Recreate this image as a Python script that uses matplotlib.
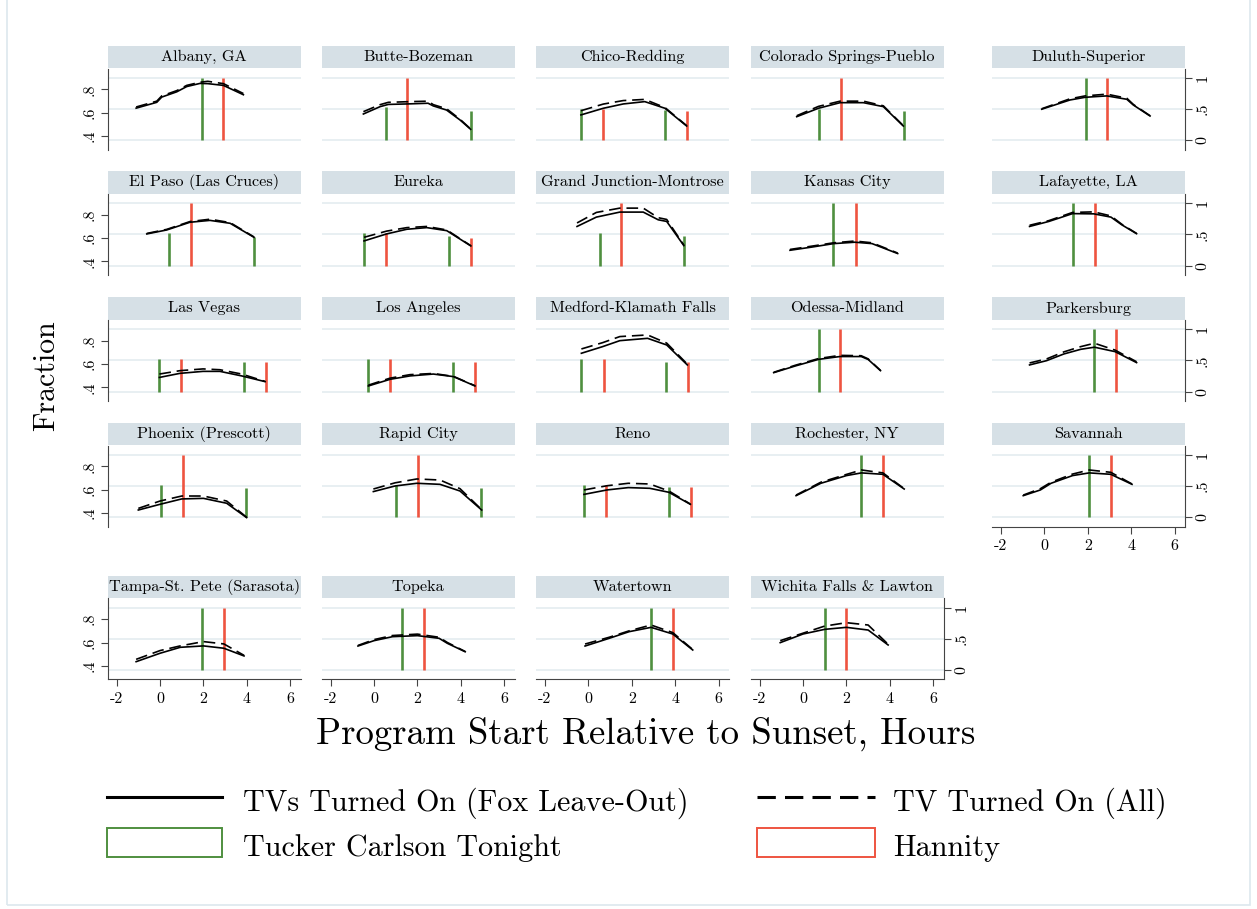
import matplotlib
matplotlib.use("Agg")
import matplotlib.pyplot as plt
from matplotlib.patches import Rectangle
from matplotlib.lines import Line2D

plt.rcParams['font.family'] = ['cmr10', 'DejaVu Serif']
plt.rcParams['axes.unicode_minus'] = False

markets = ["Albany, GA", "Butte-Bozeman", "Chico-Redding", "Colorado Springs-Pueblo", "Duluth-Superior",
           "El Paso (Las Cruces)", "Eureka", "Grand Junction-Montrose", "Kansas City", "Lafayette, LA",
           "Las Vegas", "Los Angeles", "Medford-Klamath Falls", "Odessa-Midland", "Parkersburg",
           "Phoenix (Prescott)", "Rapid City", "Reno", "Rochester, NY", "Savannah",
           "Tampa-St. Pete (Sarasota)", "Topeka", "Watertown", "Wichita Falls & Lawton"]

# program start, hours relative to sunset
hours = [
    [-1.1, -0.15, 0.08, 0.77, 1.23, 1.84, 2.2, 2.92, 3.84],
    [-0.49, 0.28, 0.66, 1.5, 2.49, 2.73, 3.34, 3.96, 4.45],
    [-0.34, 0.69, 1.61, 2.6, 3.53, 4.53],
    [-0.29, 0.71, 1.71, 2.78, 3.7, 4.62],
    [-0.12, 1.18, 1.88, 2.88, 3.8, 4.1, 4.87],
    [-0.61, 0.31, 1.38, 2.3, 3.23, 4.33],
    [-0.46, 0.58, 1.51, 2.43, 3.35, 4.46],
    [-0.52, 0.37, 1.45, 2.53, 3.22, 3.61, 4.4],
    [-0.6, 0.43, 1.41, 2.39, 3.18, 4.36],
    [-0.68, 0.21, 1.3, 2.28, 3.07, 3.56, 4.25],
    [-0.03, 0.92, 1.98, 2.76, 3.76, 4.84],
    [-0.26, 0.74, 1.66, 2.73, 3.66, 4.65],
    [-0.32, 0.66, 1.45, 2.73, 3.61, 4.56],
    [-1.35, -0.36, 0.72, 1.7, 2.68, 3.0, 3.57],
    [-0.68, 0.11, 0.9, 1.68, 2.31, 3.26, 4.25],
    [-1.0, 0.0, 1.0, 2.0, 3.07, 3.99],
    [-0.03, 0.97, 1.97, 3.04, 3.96, 4.96],
    [-0.2, 0.86, 1.84, 2.83, 3.71, 4.7],
    [-0.32, 0.82, 2.0, 2.69, 3.68, 4.66],
    [-0.97, -0.18, 0.31, 1.3, 2.07, 3.06, 4.04],
    [-1.1, 0.0, 0.93, 2.0, 2.94, 3.87],
    [-0.74, 0.0, 0.85, 2.0, 3.0, 3.38, 4.2],
    [-0.15, 0.96, 1.88, 2.89, 3.89, 4.81],
    [-1.05, 0.0, 1.0, 2.0, 3.0, 3.92],
]

# fraction of TVs turned on, Fox viewers left out
fox_leave_out = [
    [0.64, 0.69, 0.735, 0.78, 0.825, 0.852, 0.85, 0.835, 0.755],
    [0.59, 0.653, 0.672, 0.676, 0.682, 0.659, 0.624, 0.539, 0.459],
    [0.582, 0.639, 0.676, 0.696, 0.639, 0.487],
    [0.567, 0.639, 0.687, 0.687, 0.653, 0.487],
    [0.631, 0.71, 0.733, 0.745, 0.716, 0.667, 0.573],
    [0.636, 0.67, 0.736, 0.752, 0.727, 0.607],
    [0.576, 0.636, 0.676, 0.69, 0.664, 0.533],
    [0.70, 0.78, 0.823, 0.823, 0.757, 0.743, 0.536],
    [0.496, 0.524, 0.553, 0.565, 0.553, 0.468],
    [0.70, 0.743, 0.81, 0.808, 0.78, 0.715, 0.638],
    [0.486, 0.521, 0.538, 0.538, 0.499, 0.45],
    [0.413, 0.47, 0.499, 0.515, 0.493, 0.413],
    [0.693, 0.75, 0.801, 0.821, 0.764, 0.593],
    [0.527, 0.584, 0.641, 0.665, 0.665, 0.64, 0.544],
    [0.593, 0.63, 0.687, 0.727, 0.745, 0.707, 0.613],
    [0.427, 0.476, 0.522, 0.527, 0.485, 0.362],
    [0.585, 0.633, 0.656, 0.647, 0.59, 0.427],
    [0.561, 0.599, 0.619, 0.613, 0.579, 0.476],
    [0.55, 0.656, 0.722, 0.745, 0.733, 0.607],
    [0.55, 0.599, 0.656, 0.722, 0.745, 0.733, 0.647],
    [0.436, 0.508, 0.559, 0.571, 0.551, 0.485],
    [0.57, 0.616, 0.65, 0.659, 0.636, 0.593, 0.521],
    [0.57, 0.636, 0.693, 0.73, 0.673, 0.536],
    [0.599, 0.673, 0.713, 0.73, 0.707, 0.579],
]

# fraction of TVs turned on, all households
tv_all = [
    [0.65, 0.70, 0.745, 0.79, 0.835, 0.862, 0.87, 0.85, 0.765],
    [0.61, 0.67, 0.69, 0.695, 0.70, 0.67, 0.635, 0.545, 0.462],
    [0.618, 0.675, 0.705, 0.715, 0.645, 0.49],
    [0.575, 0.655, 0.70, 0.70, 0.66, 0.49],
    [0.635, 0.72, 0.745, 0.76, 0.725, 0.672, 0.575],
    [0.64, 0.675, 0.742, 0.762, 0.733, 0.61],
    [0.607, 0.66, 0.69, 0.70, 0.67, 0.535],
    [0.73, 0.82, 0.857, 0.857, 0.775, 0.76, 0.54],
    [0.503, 0.532, 0.56, 0.575, 0.56, 0.472],
    [0.71, 0.75, 0.82, 0.825, 0.79, 0.72, 0.64],
    [0.515, 0.544, 0.559, 0.552, 0.515, 0.452],
    [0.42, 0.48, 0.51, 0.52, 0.495, 0.415],
    [0.73, 0.784, 0.836, 0.85, 0.78, 0.60],
    [0.53, 0.59, 0.648, 0.675, 0.672, 0.645, 0.546],
    [0.61, 0.645, 0.705, 0.75, 0.779, 0.72, 0.62],
    [0.441, 0.504, 0.547, 0.547, 0.504, 0.365],
    [0.607, 0.66, 0.693, 0.684, 0.61, 0.43],
    [0.599, 0.635, 0.656, 0.65, 0.59, 0.478],
    [0.555, 0.665, 0.732, 0.77, 0.745, 0.61],
    [0.555, 0.61, 0.665, 0.735, 0.77, 0.75, 0.65],
    [0.456, 0.531, 0.571, 0.608, 0.588, 0.49],
    [0.575, 0.625, 0.66, 0.672, 0.645, 0.60, 0.523],
    [0.587, 0.645, 0.70, 0.75, 0.685, 0.54],
    [0.616, 0.68, 0.741, 0.77, 0.75, 0.585],
]

# airing times (hours after sunset) and share of the period they air there
tucker_x = [[1.92], [0.55, 4.46], [-0.34, 3.55], [0.74, 4.66], [1.9],
            [0.41, 4.33], [-0.46, 3.45], [0.53, 4.4], [1.4], [1.33],
            [-0.03, 3.87], [-0.26, 3.66], [-0.32, 3.58], [0.72], [2.31],
            [0.05, 3.96], [1.01, 4.93], [-0.2, 3.71], [2.69], [2.07],
            [1.93], [1.31], [2.89], [1.0]]
tucker_h = [[1.0], [0.54, 0.47], [0.51, 0.49], [0.51, 0.47], [1.0],
            [0.52, 0.46], [0.52, 0.47], [0.52, 0.47], [1.0], [1.0],
            [0.52, 0.47], [0.52, 0.47], [0.52, 0.47], [1.0], [1.0],
            [0.52, 0.47], [0.52, 0.47], [0.52, 0.48], [1.0], [1.0],
            [1.0], [1.0], [1.0], [1.0]]
hannity_x = [[2.89], [1.54], [0.66, 4.56], [1.74], [2.9],
             [1.41], [0.54, 4.46], [1.51], [2.43], [2.34],
             [0.95, 4.87], [0.74, 4.65], [0.7, 4.6], [1.7], [3.3],
             [1.07], [2.04], [0.82, 4.72], [3.69], [3.06],
             [2.94], [2.28], [3.89], [2.0]]
hannity_h = [[1.0], [1.0], [0.51, 0.47], [1.0], [1.0],
             [1.0], [0.52, 0.45], [1.0], [1.0], [1.0],
             [0.52, 0.47], [0.52, 0.47], [0.52, 0.47], [1.0], [1.0],
             [1.0], [1.0], [0.52, 0.48], [1.0], [1.0],
             [1.0], [1.0], [1.0], [1.0]]

W, H = 1257, 909
GREEN = '#4f8f3f'
RED = '#ee5440'
GRID = '#e6eef1'
STRIP = '#d6e0e6'
AXC = '#444444'

col_left = [107.7, 321.7, 536, 750.7, 992]
row_grid_top = [78, 203.3, 329.3, 455, 607.7]
pw = 193

fig = plt.figure(figsize=(W / 100, H / 100), dpi=100)
fig.patch.set_facecolor('white')


def fx(px):
    return px / W


def fy(py):
    return 1 - py / H


for i, name in enumerate(markets):
    r, c = divmod(i, 5)
    top = row_grid_top[r] - 9.3
    bot = row_grid_top[r] + 71.6
    ax2 = fig.add_axes([fx(col_left[c]), fy(bot), pw / W, (bot - top) / H])
    ax = ax2.twinx()
    ax.set_zorder(ax2.get_zorder() + 1)
    ax.patch.set_visible(False)

    ax2.set_xlim(-2.41, 6.48)
    ax2.set_ylim(-0.149, 1.149)
    ax.set_ylim(0.285, 0.978)
    for g in (0, 0.5, 1):
        ax2.axhline(g, color=GRID, lw=1.3, zorder=0)

    ax2.vlines(tucker_x[i], 0, tucker_h[i], color=GREEN, lw=1.9, zorder=2)
    ax2.vlines(hannity_x[i], 0, hannity_h[i], color=RED, lw=1.9, zorder=2)

    ax.plot(hours[i], fox_leave_out[i], color='black', lw=1.2)
    ax.plot(hours[i], tv_all[i], color='black', lw=1.2, linestyle=(0, (7, 3.5)))

    for a in (ax, ax2):
        for s in a.spines.values():
            s.set_visible(False)
        a.tick_params(length=0, labelleft=False, labelright=False, labelbottom=False)
    ax.set_yticks([])
    ax2.set_yticks([])
    ax2.set_xticks([])

    # left scale: first column
    if c == 0:
        ax2.spines['left'].set_visible(True)
        ax2.spines['left'].set_color(AXC)
        ax.yaxis.set_ticks_position('left')
        ax.set_yticks([0.4, 0.6, 0.8])
        ax.set_yticklabels(['.4', '.6', '.8'], rotation=90, va='center')
        ax.tick_params(axis='y', left=True, labelleft=True, right=False, labelright=False,
                       length=5, color=AXC, labelsize=11.5, pad=3)
    # right scale: last panel in each row
    if c == 4 or i == len(markets) - 1:
        ax2.spines['right'].set_visible(True)
        ax2.spines['right'].set_color(AXC)
        ax2.yaxis.set_ticks_position('right')
        ax2.set_yticks([0, 0.5, 1])
        ax2.set_yticklabels(['0', '.5', '1'], rotation=90, va='center')
        ax2.tick_params(axis='y', right=True, labelright=True, left=False, labelleft=False,
                        length=5, color=AXC, labelsize=11.5, pad=3)
    # hour axis: bottom of each column
    if r == 4 or i == 19:
        ax2.spines['bottom'].set_visible(True)
        ax2.spines['bottom'].set_color(AXC)
        ax2.set_xticks([-2, 0, 2, 4, 6])
        ax2.set_xticklabels(['-2', '0', '2', '4', '6'])
        ax2.tick_params(axis='x', bottom=True, labelbottom=True, length=5,
                        color=AXC, labelsize=11.5, pad=4)

    ax2.add_patch(Rectangle((0, 1.005), 1, 22.3 / (bot - top), transform=ax2.transAxes,
                            facecolor=STRIP, edgecolor='none', clip_on=False))
    ax2.text(0.5, 1.005 + 11.2 / (bot - top), name, transform=ax2.transAxes,
             ha='center', va='center', fontsize=11.7)

fig.text(fx(46), fy(376), 'Fraction', rotation=90, ha='center', va='center', fontsize=21.5)
fig.text(fx(646), fy(734), 'Program Start Relative to Sunset, Hours',
         ha='center', va='center', fontsize=26.5)

# legend
fig.add_artist(Line2D([fx(107), fx(222)], [fy(797), fy(797)], color='black', lw=2.2))
fig.add_artist(Line2D([fx(757), fx(875)], [fy(797), fy(797)], color='black', lw=2.2,
                      linestyle=(0, (6, 3))))
fig.add_artist(Rectangle((fx(107), fy(857)), fx(115), 29 / H, facecolor='white',
                         edgecolor=GREEN, lw=1.4))
fig.add_artist(Rectangle((fx(757), fy(857)), fx(118), 29 / H, facecolor='white',
                         edgecolor=RED, lw=1.4))
fig.text(fx(243), fy(803), 'TVs Turned On (Fox Leave-Out)', ha='left', va='center', fontsize=21.7)
fig.text(fx(893), fy(803), 'TV Turned On (All)', ha='left', va='center', fontsize=21.7)
fig.text(fx(243), fy(848), 'Tucker Carlson Tonight', ha='left', va='center', fontsize=21.7)
fig.text(fx(893), fy(848), 'Hannity', ha='left', va='center', fontsize=21.7)

# outer frame
fig.add_artist(Rectangle((fx(7), fy(905)), fx(1243), 920 / H, facecolor='none',
                         edgecolor='#dde8ee', lw=1.2))

fig.savefig('out.png', dpi=100)
